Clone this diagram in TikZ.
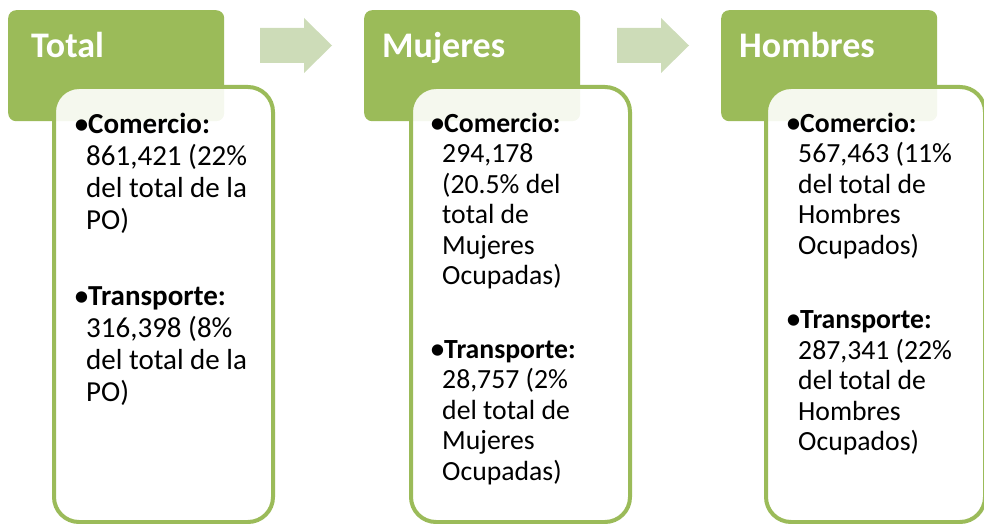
\documentclass[tikz,border=0pt]{standalone}
\usepackage{fontspec}
\setmainfont{Carlito}
\definecolor{hdrgreen}{HTML}{9BBB59}
\definecolor{arrowgreen}{RGB}{205,220,184}
\tikzset{
  hdr/.style={draw=none, fill=hdrgreen, rounded corners=8pt, minimum width=216pt, minimum height=111pt, anchor=north west, inner sep=0pt},
  hdrtext/.style={anchor=base west, inner sep=0pt, text=white, font=\fontsize{36}{40}\selectfont\bfseries},
  panel/.style={draw=hdrgreen, line width=4pt, fill=white, fill opacity=0.9, rounded corners=25pt, minimum width=219pt, minimum height=435pt, anchor=north west, inner sep=0pt},
  bodybig/.style={anchor=base west, inner sep=0pt, text width=190pt, align=left, font=\fontsize{29}{32}\selectfont},
  bodysmall/.style={anchor=base west, inner sep=0pt, text width=190pt, align=left, font=\fontsize{27.7}{30.5}\selectfont}
}
\newcommand{\bul}[1]{\hspace*{-4.5pt}\makebox[0pt][c]{\raisebox{-1pt}{\fontsize{32}{32}\selectfont •}}\hspace*{6.5pt}\textbf{#1}}
\newcommand{\natsp}{\spaceskip=0pt\xspaceskip=0pt\relax}
\begin{document}
\begin{tikzpicture}[x=1pt, y=-1pt]
\useasboundingbox (0,0) rectangle (984,524);
% headers
\node[hdr] (h1) at (8,10) {};
\node[hdr] (h2) at (364,10) {};
\node[hdr] (h3) at (721,10) {};
\node[hdrtext] (h1t) at (31,58) {Total};
\node[hdrtext] (h2t) at (382,58) {Mujeres};
\node[hdrtext] (h3t) at (739,58) {Hombres};
% panels
\node[panel] (b1) at (52,85) {};
\node[panel] (b2) at (409,85) {};
\node[panel] (b3) at (764,85) {};
% texts
\node[bodybig] (t1) at (86,133) {\natsp\bul{Comercio:}\\861,421 (22\%\\del total de la\\PO)\\[44pt]\bul{Transporte:}\\316,398 (8\%\\del total de la\\PO)};
\node[bodysmall] (t2) at (442,132) {\natsp\bul{Comercio:}\\294,178\\(20.5\% del\\total de\\Mujeres\\Ocupadas)\\[43pt]\bul{Transporte:}\\28,757 (2\%\\del total de\\Mujeres\\Ocupadas)};
\node[bodysmall] (t3) at (798,132) {\natsp\bul{Comercio:}\\567,463 (11\%\\del total de\\Hombres\\Ocupados)\\[44pt]\bul{Transporte:}\\287,341 (22\%\\del total de\\Hombres\\Ocupados)};
% arrows
\fill[arrowgreen] (260,28) -- (304,28) -- (304,18) -- (332,45.5) -- (304,73) -- (304,63) -- (260,63) -- cycle;
\fill[arrowgreen] (617,28) -- (661,28) -- (661,18) -- (689,45.5) -- (661,73) -- (661,63) -- (617,63) -- cycle;
\end{tikzpicture}
\end{document}
